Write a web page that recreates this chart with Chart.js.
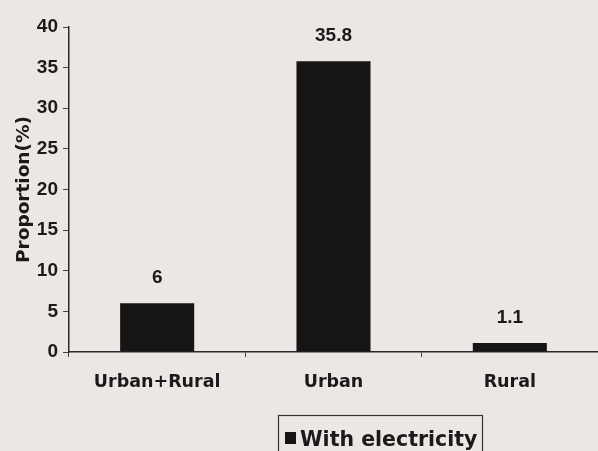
<!DOCTYPE html>
<html>
<head>
<meta charset="utf-8">
<script src="https://cdn.jsdelivr.net/npm/chart.js@4/dist/chart.umd.min.js"></script>
<style>
  html, body { margin: 0; padding: 0; background: #ebe7e5; }
  #wrap { width: 598px; height: 451px; position: relative; }
</style>
</head>
<body>
<div id="wrap"><canvas id="c" width="598" height="451"></canvas></div>
<script>
// Households with electricity, by area
const categories = ['Urban+Rural', 'Urban', 'Rural'];
const withElectricity = [6, 35.8, 1.1];
const valueLabels = ['6', '35.8', '1.1'];
const yTicks = [0, 5, 10, 15, 20, 25, 30, 35, 40];

const FONT = "'DejaVu Sans', 'Liberation Sans', Arial, sans-serif";
const NUM_FONT = "'Liberation Sans', Arial, sans-serif";
const INK = '#1b1919';

// paper-coloured background behind the whole canvas
const paper = {
  id: 'paper',
  beforeDraw(chart) {
    const ctx = chart.ctx;
    ctx.save();
    ctx.fillStyle = '#ebe7e5';
    ctx.fillRect(0, 0, chart.width, chart.height);
    ctx.restore();
  }
};

// value written above each bar
const barValues = {
  id: 'barValues',
  afterDatasetsDraw(chart) {
    const ctx = chart.ctx;
    const meta = chart.getDatasetMeta(0);
    ctx.save();
    ctx.font = 'bold 19px ' + NUM_FONT;
    ctx.fillStyle = INK;
    ctx.textAlign = 'center';
    ctx.textBaseline = 'alphabetic';
    meta.data.forEach((bar, i) => {
      ctx.fillText(valueLabels[i], bar.x, bar.y - 20);
    });
    ctx.restore();
  }
};

// boxed legend below the axis
const boxedLegend = {
  id: 'boxedLegend',
  afterDraw(chart, args, opts) {
    const ctx = chart.ctx;
    const ds = chart.data.datasets[0];
    ctx.save();
    ctx.strokeStyle = '#333';
    ctx.lineWidth = 1.2;
    ctx.strokeRect(opts.x + 0.5, opts.y + 0.5, opts.w, opts.h);
    ctx.fillStyle = ds.backgroundColor;
    ctx.fillRect(opts.x + 7, opts.y + 17, 11, 12);
    ctx.font = 'bold 20.5px ' + FONT;
    ctx.fillStyle = INK;
    ctx.textAlign = 'left';
    ctx.textBaseline = 'alphabetic';
    ctx.fillText(ds.label, opts.x + 22, opts.y + 31);
    ctx.restore();
  }
};

new Chart(document.getElementById('c'), {
  type: 'bar',
  data: {
    labels: categories,
    datasets: [{
      label: 'With electricity',
      data: withElectricity,
      backgroundColor: '#161414',
      borderWidth: 0,
      categoryPercentage: 1.0,
      barPercentage: 0.42
    }]
  },
  options: {
    responsive: false,
    animation: false,
    devicePixelRatio: 1,
    layout: { padding: { top: 27, right: 0, bottom: 0, left: 0 } },
    plugins: {
      legend: { display: false },
      tooltip: { enabled: false },
      boxedLegend: { x: 278, y: 415, w: 204, h: 50 }
    },
    scales: {
      x: {
        grid: {
          offset: true,
          drawOnChartArea: false,
          drawTicks: true,
          tickLength: 5,
          color: '#444',
          lineWidth: 1
        },
        border: { display: true, color: '#2a2a2a', width: 1.5 },
        ticks: {
          font: { family: FONT, size: 17.5, weight: 'bold' },
          color: INK,
          padding: 15,
          maxRotation: 0
        },
        afterFit(scale) { scale.height = 99; }
      },
      y: {
        min: 0,
        max: 40,
        afterBuildTicks(scale) { scale.ticks = yTicks.map(v => ({ value: v })); },
        grid: {
          drawOnChartArea: false,
          drawTicks: true,
          tickLength: 6,
          color: '#444',
          lineWidth: 1
        },
        border: { display: true, color: '#2a2a2a', width: 1.5 },
        ticks: {
          font: { family: NUM_FONT, size: 19, weight: 'bold' },
          color: INK,
          padding: 5
        },
        title: {
          display: true,
          text: 'Proportion(%)',
          font: { family: FONT, size: 18.5, weight: 'bold' },
          color: INK,
          padding: { top: 13, bottom: 0 }
        },
        afterFit(scale) { scale.width = 69; }
      }
    }
  },
  plugins: [paper, barValues, boxedLegend]
});
</script>
</body>
</html>
